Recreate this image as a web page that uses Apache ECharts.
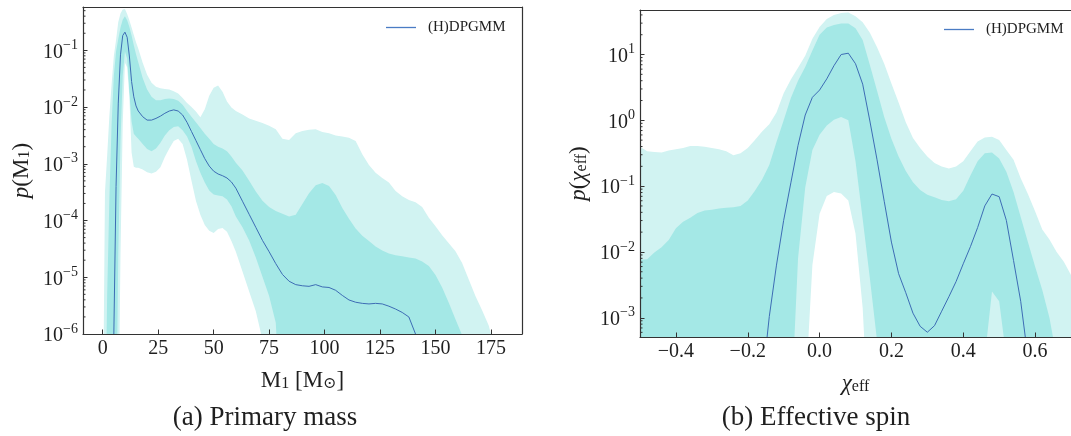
<!DOCTYPE html>
<html>
<head>
<meta charset="utf-8">
<script src="https://cdn.jsdelivr.net/npm/echarts@6/dist/echarts.min.js"></script>
<style>
  html, body { margin: 0; padding: 0; background: #ffffff; }
  #chart { width: 1071px; height: 436px; }
</style>
</head>
<body>
<div id="chart"></div>
<script>
// ---- Primary mass panel: log10 of p(M1), median and 50% / 90% credible bounds ----
const massGrid = [0, 1, 2, 3, 4, 5, 6, 7, 8, 9, 10, 11, 12, 13, 14, 15, 16,
  18, 20, 22, 24, 26, 28, 30, 32, 34, 36, 38, 40, 42, 44, 46, 48, 50, 52, 54, 56, 58, 60,
  63, 66, 69, 72, 75, 78, 81, 84, 87, 90, 93, 96, 99, 102, 105, 108, 111, 114, 117, 120,
  123, 126, 129, 132, 135, 138, 141, 144, 147, 150, 153, 156, 159, 162, 165, 168, 171, 174, 177, 180];

const massUpper90 = [-8, -3.5, -2.85, -2.15, -1.6, -1.1, -0.82, -0.5, -0.35, -0.28, -0.27, -0.36, -0.47, -0.6, -0.73, -0.86, -0.97,
  -1.22, -1.43, -1.57, -1.64, -1.67, -1.68, -1.69, -1.72, -1.76, -1.84, -1.93, -2.0, -2.08, -2.18, -2.04, -1.8, -1.66, -1.62, -1.73, -1.9, -2.01, -2.07,
  -2.13, -2.2, -2.24, -2.28, -2.33, -2.39, -2.56, -2.58, -2.46, -2.42, -2.4, -2.39, -2.44, -2.46, -2.5, -2.52, -2.54, -2.6, -2.83, -3.02,
  -3.16, -3.25, -3.33, -3.48, -3.57, -3.64, -3.68, -3.76, -3.95, -4.1, -4.26, -4.4, -4.54, -4.75, -5.04, -5.33, -5.58, -5.85, -6.3, -8];

const massUpper50 = [-8, -8, -5.3, -3.6, -2.3, -1.45, -1.02, -0.8, -0.6, -0.46, -0.4, -0.47, -0.59, -0.74, -0.91, -1.07, -1.21,
  -1.49, -1.69, -1.82, -1.88, -1.88, -1.86, -1.85, -1.86, -1.89, -1.96, -2.07, -2.17, -2.27, -2.37, -2.47, -2.56, -2.65, -2.7, -2.73, -2.78, -2.87, -2.98,
  -3.12, -3.3, -3.49, -3.65, -3.76, -3.83, -3.88, -3.93, -3.9, -3.71, -3.52, -3.38, -3.34, -3.39, -3.55, -3.78, -3.97, -4.14, -4.27, -4.36,
  -4.46, -4.53, -4.58, -4.61, -4.63, -4.65, -4.67, -4.72, -4.8, -4.96, -5.18, -5.45, -5.74, -6.02, -8, -8, -8, -8, -8, -8];

const massMedian = [-8, -8, -8, -8, -8, -6.0, -3.4, -1.93, -1.08, -0.74, -0.68, -0.77, -1.1, -1.55, -1.82, -1.98, -2.07,
  -2.17, -2.23, -2.23, -2.2, -2.16, -2.11, -2.07, -2.05, -2.07, -2.14, -2.27, -2.43, -2.59, -2.75, -2.91, -3.04, -3.13, -3.18, -3.21, -3.25, -3.32, -3.43,
  -3.66, -3.89, -4.12, -4.35, -4.55, -4.76, -4.95, -5.07, -5.13, -5.15, -5.16, -5.13, -5.17, -5.18, -5.23, -5.32, -5.4, -5.44, -5.46, -5.47,
  -5.46, -5.47, -5.51, -5.56, -5.62, -5.7, -6.0, -8, -8, -8, -8, -8, -8, -8, -8, -8, -8, -8, -8, -8];

const massLower50 = [-8, -8, -8, -8, -8, -8, -8, -4.6, -2.6, -1.45, -1.02, -1.15, -1.75, -2.25, -2.47, -2.52, -2.56,
  -2.65, -2.74, -2.78, -2.73, -2.63, -2.5, -2.41, -2.35, -2.34, -2.41, -2.52, -2.7, -2.95, -3.16, -3.33, -3.47, -3.54, -3.56, -3.57, -3.63, -3.75, -3.93,
  -4.12, -4.35, -4.65, -4.99, -5.33, -5.8, -8, -8, -8, -8, -8, -8, -8, -8, -8, -8, -8, -8, -8, -8,
  -8, -8, -8, -8, -8, -8, -8, -8, -8, -8, -8, -8, -8, -8, -8, -8, -8, -8, -8, -8];

const massLower90 = [-8, -8, -8, -8, -8, -8, -8, -8, -4.6, -2.3, -1.22, -1.3, -1.82, -2.8, -3.05, -3.07, -3.07,
  -3.1, -3.15, -3.17, -3.14, -3.06, -2.88, -2.73, -2.6, -2.56, -2.65, -2.93, -3.3, -3.65, -3.9, -4.08, -4.18, -4.22, -4.15, -4.13, -4.2, -4.36, -4.55,
  -4.9, -5.25, -5.6, -6.1, -8, -8, -8, -8, -8, -8, -8, -8, -8, -8, -8, -8, -8, -8, -8, -8,
  -8, -8, -8, -8, -8, -8, -8, -8, -8, -8, -8, -8, -8, -8, -8, -8, -8, -8, -8, -8];

// ---- Effective spin panel: log10 of p(chi_eff) ----
const spinGrid = [-0.5, -0.48, -0.46, -0.44, -0.42, -0.4, -0.38, -0.36, -0.34, -0.32, -0.3, -0.28, -0.26, -0.24, -0.22, -0.2,
  -0.18, -0.16, -0.14, -0.12, -0.1, -0.08, -0.06, -0.04, -0.02, 0.0, 0.02, 0.04, 0.06, 0.08, 0.1, 0.12, 0.14, 0.16, 0.18, 0.2,
  0.22, 0.24, 0.26, 0.28, 0.3, 0.32, 0.34, 0.36, 0.38, 0.4, 0.42, 0.44, 0.46, 0.48, 0.5, 0.52, 0.54, 0.56, 0.58, 0.6,
  0.62, 0.64, 0.66, 0.68, 0.7];

const spinUpper90 = [-0.4, -0.47, -0.48, -0.49, -0.46, -0.44, -0.42, -0.39, -0.39, -0.4, -0.42, -0.44, -0.47, -0.53, -0.5, -0.42,
  -0.3, -0.17, -0.06, 0.12, 0.41, 0.62, 0.8, 0.98, 1.24, 1.42, 1.54, 1.6, 1.63, 1.64, 1.58, 1.49, 1.33, 1.11, 0.86, 0.56,
  0.27, -0.03, -0.27, -0.42, -0.55, -0.65, -0.7, -0.73, -0.7, -0.62, -0.47, -0.32, -0.26, -0.25, -0.3, -0.45, -0.6, -0.88, -1.12, -1.38,
  -1.66, -1.81, -2.0, -2.15, -2.35];

const spinUpper50 = [-2.12, -2.11, -2.01, -1.93, -1.82, -1.64, -1.54, -1.48, -1.41, -1.37, -1.36, -1.34, -1.33, -1.32, -1.3, -1.22,
  -1.07, -0.9, -0.68, -0.33, 0.0, 0.34, 0.6, 0.81, 1.06, 1.3, 1.41, 1.45, 1.47, 1.47, 1.4, 1.22, 0.84, 0.45, 0.05, -0.28,
  -0.55, -0.77, -0.94, -1.06, -1.13, -1.17, -1.21, -1.23, -1.2, -1.07, -0.84, -0.62, -0.5, -0.49, -0.58, -0.78, -1.09, -1.47, -1.85, -2.22,
  -2.58, -3.0, -3.6, -4.5, -8];

const spinMedian = [-8, -8, -8, -8, -8, -8, -8, -8, -8, -8, -8, -8, -8, -8, -8, -8,
  -8, -4.0, -2.98, -2.2, -1.52, -0.95, -0.38, 0.08, 0.35, 0.46, 0.63, 0.83, 1.0, 1.02, 0.86, 0.55, -0.01, -0.6, -1.23, -1.85,
  -2.33, -2.62, -2.93, -3.13, -3.22, -3.12, -2.9, -2.68, -2.45, -2.18, -1.92, -1.63, -1.3, -1.12, -1.16, -1.52, -2.13, -2.75, -3.6, -5.0,
  -8, -8, -8, -8, -8];

const spinLower50 = [-8, -8, -8, -8, -8, -8, -8, -8, -8, -8, -8, -8, -8, -8, -8, -8,
  -8, -8, -8, -8, -8, -4.5, -2.1, -1.02, -0.45, -0.22, -0.08, 0.01, 0.05, 0.0, -0.62, -1.5, -2.4, -3.35, -8, -8,
  -8, -8, -8, -8, -8, -8, -8, -8, -8, -8, -8, -8, -3.6, -2.6, -2.75, -3.6, -8, -8, -8, -8,
  -8, -8, -8, -8, -8];

const spinLower90 = [-8, -8, -8, -8, -8, -8, -8, -8, -8, -8, -8, -8, -8, -8, -8, -8,
  -8, -8, -8, -8, -8, -8, -8, -4.2, -2.2, -1.42, -1.15, -1.09, -1.11, -1.22, -1.72, -2.85, -5, -8, -8, -8,
  -8, -8, -8, -8, -8, -8, -8, -8, -8, -8, -8, -8, -8, -8, -8, -8, -8, -8, -8, -8,
  -8, -8, -8, -8, -8];

// ---- tick values and texts ----
const massTicks = [0, 25, 50, 75, 100, 125, 150, 175];
const spinTicks = [-0.4, -0.2, 0.0, 0.2, 0.4, 0.6];
const legendLabel = '(H)DPGMM';
const captions = ['(a) Primary mass', '(b) Effective spin'];

// ---- styling ----
const F = "'Liberation Serif', 'DejaVu Serif', serif";
const INK = '#1f1f1f';
const FRAME = '#333333';
const LIGHT = '#d1f3f2';
const DARK = '#a4e8e6';
const WHITE = '#ffffff';
const BLUE = '#3d6cb4';

function pairs(grid, logs) {
  return grid.map((x, i) => [x, Math.pow(10, logs[i])]);
}

function minorValues(min, max) {
  const out = [];
  for (let n = Math.floor(Math.log10(min)); n <= Math.ceil(Math.log10(max)); n++) {
    for (let k = 2; k <= 9; k++) {
      const v = k * Math.pow(10, n);
      if (v >= min && v <= max) out.push(v);
    }
  }
  return out;
}

function powLabel(v) {
  const e = Math.log10(v);
  const r = Math.round(e);
  if (Math.abs(e - r) > 1e-6) return '';
  return '{b|10}{e|' + (r < 0 ? '\u2212' + (-r) : String(r)) + '}';
}

const expRich = {
  b: { fontFamily: F, fontSize: 20, lineHeight: 24, verticalAlign: 'bottom', color: INK },
  e: { fontFamily: F, fontSize: 14, lineHeight: 14, verticalAlign: 'top', color: INK }
};

const nameRich = {
  r: { fontFamily: F, fontSize: 23, lineHeight: 28, verticalAlign: 'bottom', color: INK },
  i: { fontFamily: F, fontSize: 23, lineHeight: 28, verticalAlign: 'bottom', fontStyle: 'italic', color: INK },
  s: { fontFamily: F, fontSize: 16, lineHeight: 16, verticalAlign: 'bottom', color: INK }
};

const panels = [
  {
    grid: { left: 83, top: 7, width: 439, height: 327 },
    xMin: -8.9, xMax: 189, yMin: 1e-6, yMax: 0.58,
    xTicks: massTicks,
    xFormat: v => String(v),
    xName: '{r|M}{s|1}{r| [M}{s|\u2299}{r|]}',
    yName: '{i|p}{r|(M}{s|1}{r|)}',
    grid1: massGrid,
    curves: [massUpper90, massUpper50, massLower50, massLower90, massMedian],
    legend: { left: 386, top: 20 },
    caption: { text: captions[0], center: 265 },
    rightFrame: true
  },
  {
    grid: { left: 640, top: 10, width: 439, height: 327 },
    xMin: -0.5, xMax: 0.7, yMin: 5.1e-4, yMax: 47.5,
    xTicks: spinTicks,
    xFormat: v => (v < 0 ? '\u2212' : '') + Math.abs(v).toFixed(1),
    xName: '{i|\u03c7}{s|eff}',
    yName: '{i|p}{r|(}{i|\u03c7}{s|eff}{r|)}',
    grid1: spinGrid,
    curves: [spinUpper90, spinUpper50, spinLower50, spinLower90, spinMedian],
    legend: { left: 944, top: 22 },
    caption: { text: captions[1], center: 816 },
    rightFrame: false
  }
];

const option = {
  animation: false,
  backgroundColor: '#ffffff',
  textStyle: { fontFamily: F },
  grid: [], xAxis: [], yAxis: [], series: [], legend: [], title: []
};

panels.forEach((p, g) => {
  option.grid.push(Object.assign({ containLabel: false }, p.grid));

  const xi = option.xAxis.length;
  option.xAxis.push({
    type: 'value', gridIndex: g, position: 'bottom', min: p.xMin, max: p.xMax, z: 10,
    axisLine: { show: true, onZero: false, lineStyle: { color: FRAME, width: 1.2 } },
    axisTick: { show: true, inside: true, length: 4.5, customValues: p.xTicks, lineStyle: { color: FRAME, width: 1 } },
    axisLabel: { customValues: p.xTicks, formatter: p.xFormat, margin: 5, fontFamily: F, fontSize: 20, color: INK },
    splitLine: { show: false },
    name: p.xName, nameLocation: 'middle', nameGap: 30,
    nameTextStyle: { rich: nameRich }
  });
  option.xAxis.push({
    type: 'value', gridIndex: g, position: 'top', min: p.xMin, max: p.xMax, z: 10,
    axisLine: { show: true, onZero: false, lineStyle: { color: FRAME, width: 1.2 } },
    axisTick: { show: false }, axisLabel: { show: false }, splitLine: { show: false }
  });

  const yi = option.yAxis.length;
  option.yAxis.push({
    type: 'log', logBase: 10, gridIndex: g, position: 'left', min: p.yMin, max: p.yMax, z: 10,
    axisLine: { show: true, onZero: false, lineStyle: { color: FRAME, width: 1.2 } },
    axisTick: { show: true, inside: true, length: 4.5, lineStyle: { color: FRAME, width: 1 } },
    axisLabel: { formatter: powLabel, rich: expRich, margin: 5 },
    splitLine: { show: false }, minorTick: { show: false },
    name: p.yName, nameLocation: 'middle', nameRotate: 90, nameGap: 50,
    nameTextStyle: { rich: nameRich }
  });
  if (p.rightFrame) {
    option.yAxis.push({
      type: 'log', logBase: 10, gridIndex: g, position: 'right', min: p.yMin, max: p.yMax, z: 10,
      axisLine: { show: true, onZero: false, lineStyle: { color: FRAME, width: 1.2 } },
      axisTick: { show: false }, axisLabel: { show: false }, splitLine: { show: false }
    });
  }

  // credible bands: each bound is filled down to the axis, later fills cover earlier ones
  const fills = [LIGHT, DARK, LIGHT, WHITE];
  const bandNames = ['upper 90%', 'upper 50%', 'lower 50%', 'lower 90%'];
  fills.forEach((color, k) => {
    option.series.push({
      type: 'line', name: bandNames[k], xAxisIndex: xi, yAxisIndex: yi,
      data: pairs(p.grid1, p.curves[k]),
      symbol: 'none', silent: true, z: 2,
      lineStyle: { width: 0, opacity: 0 },
      areaStyle: { color: color, opacity: 1, origin: 'start' }
    });
  });

  option.series.push({
    type: 'line', name: legendLabel, xAxisIndex: xi, yAxisIndex: yi,
    data: pairs(p.grid1, p.curves[4]),
    symbol: 'none', silent: true, z: 3,
    lineStyle: { color: BLUE, width: 1 },
    itemStyle: { color: BLUE }
  });

  // minor ticks of the log axis (2..9 times each decade), drawn inward from the left spine
  option.series.push({
    type: 'custom', xAxisIndex: xi, yAxisIndex: yi, silent: true, z: 9, clip: true,
    data: minorValues(p.yMin, p.yMax).map(v => [p.xMin, v]),
    encode: { x: 0, y: 1 },
    renderItem: (params, api) => {
      const pt = api.coord([api.value(0), api.value(1)]);
      const x0 = params.coordSys.x;
      return {
        type: 'line',
        shape: { x1: x0, y1: pt[1], x2: x0 + 2.5, y2: pt[1] },
        style: { stroke: FRAME, lineWidth: 1 }
      };
    }
  });

  option.legend.push({
    left: p.legend.left, top: p.legend.top, data: [legendLabel],
    icon: 'rect', itemWidth: 30, itemHeight: 1.3, padding: 0, selectedMode: false,
    itemStyle: { color: '#4a7cc4' },
    textStyle: { fontFamily: F, fontSize: 15, color: INK, padding: [0, 0, 0, 7] }
  });

  option.title.push({
    text: p.caption.text, left: p.caption.center, top: 404, textAlign: 'center', padding: 0,
    textStyle: { fontFamily: F, fontSize: 27, fontWeight: 'normal', color: INK }
  });
});

const chart = echarts.init(document.getElementById('chart'), null, { renderer: 'canvas' });
chart.setOption(option);
</script>
</body>
</html>
